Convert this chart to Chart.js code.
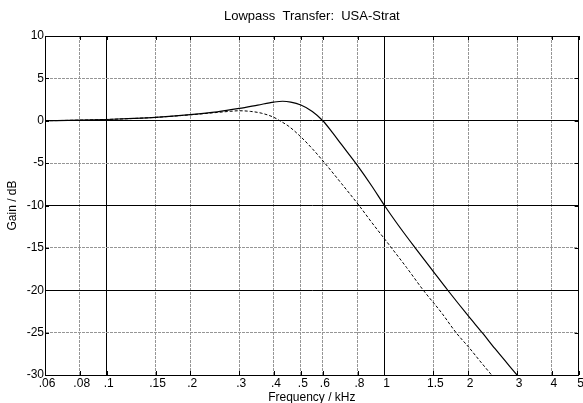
<!DOCTYPE html>
<html>
<head>
<meta charset="utf-8">
<script src="https://cdn.jsdelivr.net/npm/chart.js@4.4.1/dist/chart.umd.min.js"></script>
<style>
  html, body { margin: 0; padding: 0; background: #fff; }
  #wrap { width: 583px; height: 403px; }
</style>
</head>
<body>
<div id="wrap"><canvas id="chart" width="583" height="403"></canvas></div>
<script>
// frequency ticks (kHz) and gain ticks (dB)
const freqTicks = [0.06, 0.08, 0.1, 0.15, 0.2, 0.3, 0.4, 0.5, 0.6, 0.8, 1, 1.5, 2, 3, 4, 5];
const majorFreq = [0.1, 1];
const majorGain = [0, -10, -20];

// solid curve
const solidFreq = [0.06, 0.08, 0.1, 0.125, 0.15, 0.2, 0.25, 0.3, 0.35, 0.4, 0.43, 0.46, 0.5, 0.55, 0.6, 0.65, 0.7, 0.8, 0.9, 1.0, 1.12, 1.29, 1.5, 1.69, 2.0, 2.26, 2.5, 3.0];
const solidGain = [0, 0.07, 0.15, 0.27, 0.4, 0.72, 1.05, 1.45, 1.85, 2.2, 2.3, 2.2, 1.85, 1.1, 0.0, -1.4, -2.8, -5.3, -7.7, -10, -12.3, -15, -17.8, -20, -23, -25.1, -26.9, -30];

// dashed curve
const dashFreq = [0.06, 0.08, 0.1, 0.125, 0.15, 0.2, 0.25, 0.28, 0.3, 0.33, 0.36, 0.4, 0.42, 0.45, 0.5, 0.55, 0.61, 0.7, 0.81, 0.9, 1.06, 1.2, 1.38, 1.6, 1.81, 2.02, 2.2, 2.43];
const dashGain = [0, 0.07, 0.15, 0.27, 0.4, 0.7, 0.98, 1.12, 1.18, 1.1, 0.9, 0.4, 0.0, -0.6, -1.9, -3.3, -5, -7.4, -10, -12, -15, -17.3, -20, -22.6, -25, -26.8, -28.3, -30];

const toPoints = (xs, ys) => xs.map((x, i) => ({ x: x, y: ys[i] }));

const FONT = "'Liberation Sans', Arial, Helvetica, sans-serif";

function fmtFreq(v) {
  let s = String(Math.round(v * 1000) / 1000);
  if (s.startsWith('0.')) s = s.substring(1);
  return s;
}

// box and small inward ticks round the plot area
const framePlugin = {
  id: 'frame',
  afterDatasetsDraw(chart) {
    const { ctx, chartArea: a, scales } = chart;
    ctx.save();
    ctx.strokeStyle = '#000';
    ctx.lineWidth = 1;
    ctx.beginPath();
    scales.y.ticks.forEach(t => {
      const py = Math.round(scales.y.getPixelForValue(t.value)) + 0.5;
      ctx.moveTo(a.left, py); ctx.lineTo(a.left + 4, py);
      ctx.moveTo(a.right, py); ctx.lineTo(a.right - 4, py);
    });
    scales.x.ticks.forEach(t => {
      const px = Math.round(scales.x.getPixelForValue(t.value)) + 0.5;
      ctx.moveTo(px, a.bottom); ctx.lineTo(px, a.bottom - 4);
      ctx.moveTo(px, a.top); ctx.lineTo(px, a.top + 4);
    });
    ctx.stroke();
    ctx.strokeRect(Math.round(a.left) + 0.5, Math.round(a.top) + 0.5,
      Math.round(a.right - a.left) - 1, Math.round(a.bottom - a.top));
    ctx.restore();
  }
};

new Chart(document.getElementById('chart'), {
  type: 'line',
  data: {
    datasets: [
      {
        label: 'solid',
        data: toPoints(solidFreq, solidGain),
        borderColor: '#000',
        borderWidth: 1.2,
        pointRadius: 0,
        cubicInterpolationMode: 'monotone',
        fill: false
      },
      {
        label: 'dashed',
        data: toPoints(dashFreq, dashGain),
        borderColor: '#000',
        borderWidth: 1,
        borderDash: [3, 2],
        pointRadius: 0,
        cubicInterpolationMode: 'monotone',
        fill: false
      }
    ]
  },
  options: {
    responsive: false,
    animation: false,
    layout: { padding: { left: 0, right: 3, top: 0, bottom: 0 } },
    plugins: {
      legend: { display: false },
      tooltip: { enabled: false },
      title: {
        display: true,
        fullSize: false,
        text: 'Lowpass  Transfer:  USA-Strat',
        color: '#000',
        font: { family: FONT, size: 13, weight: 'normal' },
        padding: { top: 9, bottom: 11.4 }
      }
    },
    scales: {
      x: {
        type: 'logarithmic',
        min: 0.06,
        max: 5,
        afterBuildTicks: s => { s.ticks = freqTicks.map(v => ({ value: v })); },
        afterFit: s => { s.height = 28; },
        ticks: {
          autoSkip: false,
          maxRotation: 0,
          padding: 1,
          labelOffset: 2,
          color: '#000',
          font: { family: FONT, size: 12 },
          callback: v => fmtFreq(v)
        },
        grid: {
          drawTicks: false,
          color: c => majorFreq.includes(c.tick && c.tick.value) ? '#000' : '#969696',
          lineWidth: 1
        },
        border: {
          display: true,
          color: '#000',
          dash: c => majorFreq.includes(c.tick && c.tick.value) ? [] : [3, 1]
        },
        title: {
          display: true,
          text: 'Frequency / kHz',
          color: '#000',
          font: { family: FONT, size: 12 },
          padding: { top: 0, bottom: -2 }
        }
      },
      y: {
        min: -30,
        max: 10,
        afterFit: s => { s.width = 45; },
        ticks: {
          stepSize: 5,
          padding: 1,
          color: '#000',
          font: { family: FONT, size: 12 }
        },
        grid: {
          drawTicks: false,
          color: c => majorGain.includes(c.tick && c.tick.value) ? '#000' : '#969696',
          lineWidth: 1
        },
        border: {
          display: true,
          color: '#000',
          dash: c => majorGain.includes(c.tick && c.tick.value) ? [] : [3, 1]
        },
        title: {
          display: true,
          text: 'Gain / dB',
          color: '#000',
          font: { family: FONT, size: 12 },
          padding: { top: 5, bottom: 0 }
        }
      }
    }
  },
  plugins: [framePlugin]
});
</script>
</body>
</html>
